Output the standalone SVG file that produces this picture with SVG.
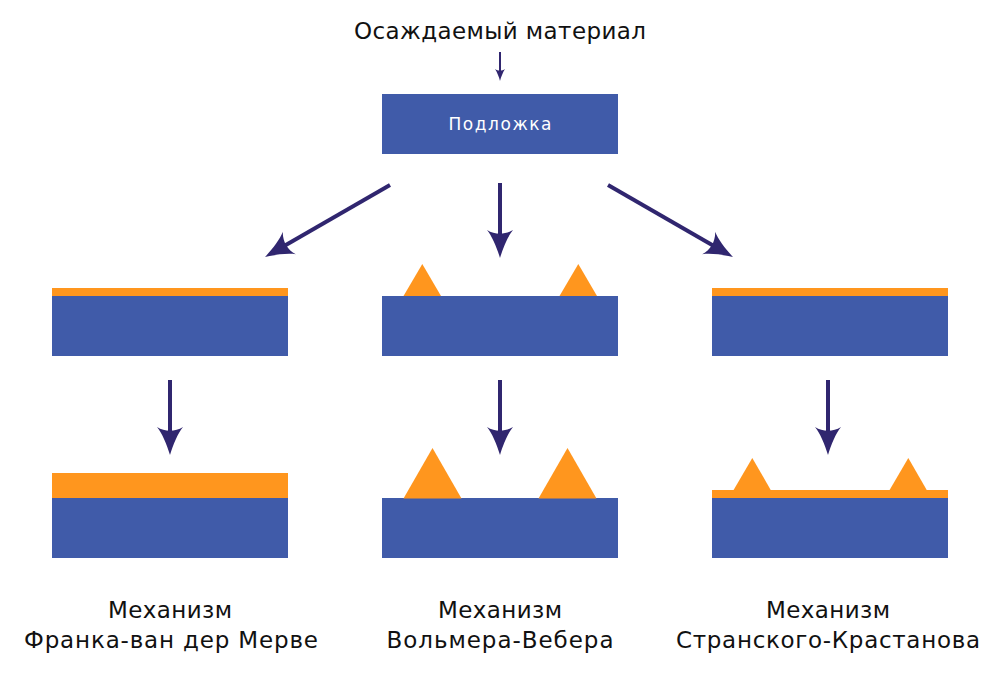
<svg xmlns="http://www.w3.org/2000/svg" width="1000" height="700" viewBox="0 0 1000 700">
<style>
.sub{fill:#405BA9}
.film{fill:#FF961E}
.arr{stroke:#30266F;stroke-width:4;fill:none}
.txt{font-family:"DejaVu Sans","Noto Sans",sans-serif;font-size:23px;fill:#111;text-anchor:middle}
.wt{font-family:"DejaVu Sans","Noto Sans",sans-serif;font-size:17px;fill:#fff;text-anchor:middle}
</style>
<defs>
<marker id="ah" markerUnits="userSpaceOnUse" markerWidth="32" markerHeight="30" viewBox="-2 -15 32 30" refX="18" refY="0" orient="auto">
<path d="M28,0 C18,-3 6,-8 0,-13 C5,-5 5,5 0,13 C6,8 18,3 28,0 Z" fill="#30266F"/>
</marker>
<marker id="ahs" markerUnits="userSpaceOnUse" markerWidth="14" markerHeight="12" viewBox="-1 -6 14 12" refX="6" refY="0" orient="auto">
<path d="M12,0 C8,-1 3,-3 0,-5 C2,-2 2,2 0,5 C3,3 8,1 12,0 Z" fill="#30266F"/>
</marker>
</defs>
<text class="txt" x="500" y="39" textLength="292" lengthAdjust="spacing">Осаждаемый материал</text>
<g id="substrate">
<rect class="sub" x="382" y="94" width="236" height="60"/>
<text class="wt" x="500" y="130" textLength="103" lengthAdjust="spacing">Подложка</text>
</g>
<g id="connectors">
<line x1="500" y1="52" x2="500" y2="75" stroke="#30266F" stroke-width="2" marker-end="url(#ahs)"/>
<line class="arr" x1="390" y1="185" x2="273.7" y2="252" marker-end="url(#ah)"/>
<line class="arr" x1="500" y1="183" x2="500" y2="248" marker-end="url(#ah)"/>
<line class="arr" x1="608" y1="185" x2="724.3" y2="252" marker-end="url(#ah)"/>
<line class="arr" x1="170" y1="380" x2="170" y2="445" marker-end="url(#ah)"/>
<line class="arr" x1="500" y1="380" x2="500" y2="445" marker-end="url(#ah)"/>
<line class="arr" x1="828" y1="380" x2="828" y2="445" marker-end="url(#ah)"/>
</g>
<g id="fvdm-initial">
<rect class="film" x="52" y="288" width="236" height="8"/>
<rect class="sub" x="52" y="296" width="236" height="60"/>
</g>
<g id="vw-initial">
<rect class="sub" x="382" y="296" width="236" height="60"/>
<polygon class="film" points="403.5,296 422.3,264 441,296"/>
<polygon class="film" points="559.5,296 578.3,264 597,296"/>
</g>
<g id="sk-initial">
<rect class="film" x="712" y="288" width="236" height="8"/>
<rect class="sub" x="712" y="296" width="236" height="60"/>
</g>
<g id="fvdm-final">
<rect class="film" x="52" y="473" width="236" height="25"/>
<rect class="sub" x="52" y="498" width="236" height="60"/>
</g>
<g id="vw-final">
<rect class="sub" x="382" y="498" width="236" height="60"/>
<polygon class="film" points="403.5,498.5 432.5,448 461.5,498.5"/>
<polygon class="film" points="538.5,498.5 567.5,448 596.5,498.5"/>
</g>
<g id="sk-final">
<rect class="film" x="712" y="490" width="236" height="8"/>
<rect class="sub" x="712" y="498" width="236" height="60"/>
<polygon class="film" points="733.3,490.5 752.3,458 771,490.5"/>
<polygon class="film" points="889.3,490.5 908.3,458 927,490.5"/>
</g>
<g id="label-fvdm">
<text class="txt" x="170" y="618" textLength="124" lengthAdjust="spacing">Механизм</text>
<text class="txt" x="171" y="648" textLength="294" lengthAdjust="spacing">Франка-ван дер Мерве</text>
</g>
<g id="label-vw">
<text class="txt" x="500" y="618" textLength="124" lengthAdjust="spacing">Механизм</text>
<text class="txt" x="500" y="648" textLength="227" lengthAdjust="spacing">Вольмера-Вебера</text>
</g>
<g id="label-sk">
<text class="txt" x="828" y="618" textLength="124" lengthAdjust="spacing">Механизм</text>
<text class="txt" x="828" y="648" textLength="304" lengthAdjust="spacing">Странского-Крастанова</text>
</g>
</svg>
